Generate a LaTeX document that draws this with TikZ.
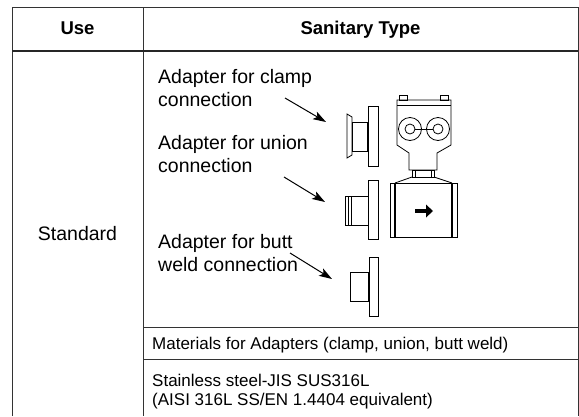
\documentclass[tikz,border=0pt]{standalone}
\usepackage{fontspec}
\setmainfont{Liberation Sans}
\usetikzlibrary{arrows.meta}
\tikzset{
  grid/.style={draw=black!80, line width=1pt},
  gridthick/.style={draw=black!85, line width=2.2pt},
  part/.style={draw=black, line width=0.8pt, line join=miter},
  lbl/.style={inner sep=0pt, align=left, anchor=base west, font=\fontsize{19.5}{22.5}\selectfont},
  mat/.style={inner sep=0pt, align=left, anchor=base west, font=\fontsize{17}{18.5}\selectfont},
  hdr/.style={inner sep=0pt, anchor=base, font=\fontsize{18.5}{21}\selectfont\bfseries},
  ptr/.style={draw=black, line width=1pt, -{Stealth[length=13pt,width=8.5pt,inset=3pt]}}
}
\begin{document}
\begin{tikzpicture}[x=1pt,y=-1pt]
\useasboundingbox (0,0) rectangle (579,416);
% table
\draw[grid] (12,416) -- (12,7) -- (578,7) -- (578,416);
\draw[grid] (143,7) -- (143,416);
\draw[gridthick] (12,51) -- (578,51);
\draw[grid] (143,327) -- (578,327);
\draw[grid] (143,359) -- (578,359);
% header texts
\node[hdr] (huse) at (77.5,34) {Use};
\node[hdr] (htype) at (360.5,34) {Sanitary Type};
\node[inner sep=0pt, anchor=base, font=\fontsize{19.5}{22.5}\selectfont] (std) at (77.5,240) {Standard};
% labels (anchored at the baseline of their last line)
\node[lbl] (lclamp) at (158,106) {Adapter for clamp\\connection};
\node[lbl] (lunion) at (158,172) {Adapter for union\\connection};
\node[lbl] (lbutt) at (158,271) {Adapter for butt\\weld connection};
\node[mat] (lmat) at (152,349) {Materials for Adapters (clamp, union, butt weld)};
\node[mat] (lsteel) at (152,405) {Stainless steel-JIS SUS316L\\(AISI 316L SS/EN 1.4404 equivalent)};
% pointers
\coordinate (p1s) at (285,98);  \coordinate (p1e) at (326,122);
\coordinate (p2s) at (284,177); \coordinate (p2e) at (325,202);
\coordinate (p3s) at (290,253); \coordinate (p3e) at (332,279);
\draw[ptr] (p1s) -- (p1e);
\draw[ptr] (p2s) -- (p2e);
\draw[ptr] (p3s) -- (p3e);
% clamp adapter
\draw[part] (368,106) rectangle (378,166);
\draw[part] (352,122) rectangle (368,151);
\draw[line width=1.4pt] (368,122) -- (368,151);
\draw[part] (352,117) -- (347,114) -- (347,158) -- (352,155) -- cycle;
% union adapter
\draw[part] (368,180) rectangle (378,239);
\draw[part] (345,196) rectangle (368,225);
\draw[part] (348.5,196) -- (348.5,225);
\draw[part] (351.5,196) -- (351.5,225);
% butt weld adapter
\draw[part] (369,257) rectangle (378,316);
\draw[part] (350,272) rectangle (369,301);
\draw[line width=1.4pt] (369,272) -- (369,301);
% meter: converter head
\draw[part] (399,95) rectangle (407,100);
\draw[part] (440,95) rectangle (448,100);
\draw[part] (397,100) -- (451,100) -- (451,145) -- (437,153) -- (437,170) -- (409,170) -- (409,153) -- (397,145) -- cycle;
\draw[part] (397,105) -- (451,105);
\draw[part] (410,129) circle (11.5);
\draw[part] (410,129) circle (5);
\draw[part] (438,129) circle (11.5);
\draw[part] (438,129) circle (5);
\draw[part] (415,129) -- (433,129);
% connection
\draw[part] (412,170) rectangle (434,177);
\draw[part] (415,170) -- (415,177);
\draw[part] (431,170) -- (431,177);
\draw[part] (412,177) -- (395,183);
\draw[part] (434,177) -- (452,183);
% flow tube body
\draw[part] (390,183) rectangle (457,237);
\draw[line width=1.8pt] (395,183) -- (395,237);
\draw[line width=1.8pt] (452,183) -- (452,237);
% flow arrow
\draw[line width=4pt] (415,211) -- (427,211);
\fill (426,204.5) -- (433,211) -- (426,217.5) -- cycle;
\end{tikzpicture}
\end{document}
